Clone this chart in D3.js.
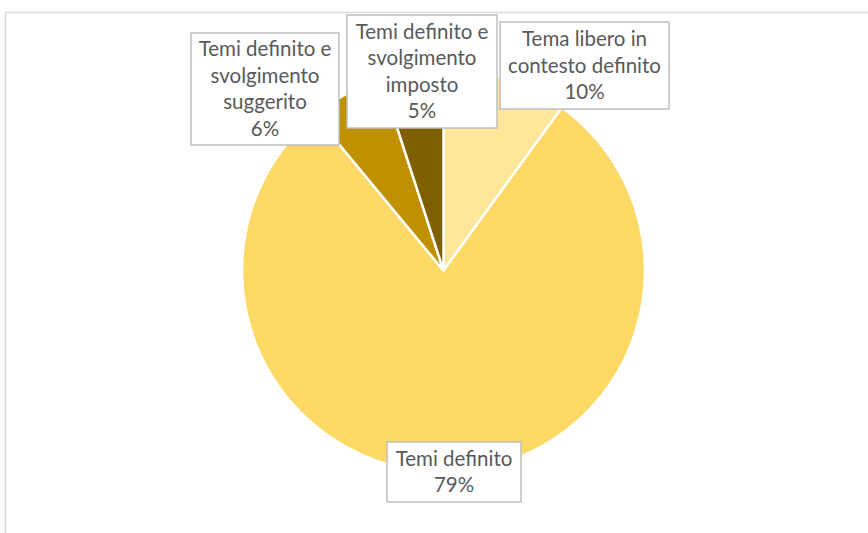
<!DOCTYPE html>
<html>
<head>
<meta charset="utf-8">
<script src="https://cdn.jsdelivr.net/npm/d3@7"></script>
<style>
  body { margin: 0; background: #fff; }
  #PieChart { width: 868px; height: 533px; }
  .lbl { font-family: Lato, "Open Sans", sans-serif; fill: #595959; }
</style>
</head>
<body>
<div id="PieChart"></div>
<script>
// chart data
var categories = ["Tema libero in contesto definito", "Temi definito",
                  "Temi definito e svolgimento suggerito", "Temi definito e svolgimento imposto"];
var values = [10, 79, 6, 5];
var labelLines = [["Tema libero in", "contesto definito"],
                  ["Temi definito"],
                  ["Temi definito e", "svolgimento", "suggerito"],
                  ["Temi definito e", "svolgimento", "imposto"]];

var sliceColors = d3.scaleOrdinal()
    .domain(categories)
    .range(["#FFE699", "#FFD966", "#BF9000", "#7F6000"]);

// where the label boxes sit (left, top, width, height)
var boxLayout = [
  { x: 500, y: 22, w: 169, h: 87 },
  { x: 387, y: 442, w: 134, h: 60 },
  { x: 191, y: 33, w: 148, h: 112 },
  { x: 347, y: 15, w: 150, h: 113 }
];

var width = 868, height = 533;
var cx = 443.5, cy = 270.5, radius = 201.5;

var svg = d3.select("#PieChart")
            .append("svg")
            .attr("width", width)
            .attr("height", height);

// chart area border (only top and left edge are visible)
svg.append("path")
   .attr("d", "M5.5,533 L5.5,12.5 L868,12.5")
   .attr("fill", "none")
   .attr("stroke", "#d9d9d9")
   .attr("stroke-width", 1.5);

var pie = d3.pie().sort(null).value(function (d) { return d; });
var arc = d3.arc().innerRadius(0).outerRadius(radius);

var pieG = svg.append("g")
              .attr("transform", "translate(" + cx + "," + cy + ")");

pieG.selectAll(".slice")
    .data(pie(values))
    .enter()
    .append("path")
    .attr("class", "slice")
    .attr("d", arc)
    .attr("fill", function (d, i) { return sliceColors(categories[i]); })
    .attr("stroke", "#fff")
    .attr("stroke-width", 2.5)
    .attr("stroke-linejoin", "round");

var fontSize = 20.5, lineH = 26.5;

var labels = svg.selectAll(".label")
    .data(values)
    .enter()
    .append("g")
    .attr("class", "label");

labels.append("rect")
    .attr("x", function (d, i) { return boxLayout[i].x; })
    .attr("y", function (d, i) { return boxLayout[i].y; })
    .attr("width", function (d, i) { return boxLayout[i].w; })
    .attr("height", function (d, i) { return boxLayout[i].h; })
    .attr("fill", "#fff")
    .attr("stroke", "#bfbfbf")
    .attr("stroke-width", 1.5);

labels.each(function (d, i) {
  var b = boxLayout[i];
  var lines = labelLines[i].concat([d + "%"]);
  var startY = b.y + b.h / 2 - (lines.length - 1) * lineH / 2;
  d3.select(this).selectAll("text")
    .data(lines)
    .enter()
    .append("text")
    .attr("class", "lbl")
    .attr("x", b.x + b.w / 2)
    .attr("y", function (t, j) { return startY + j * lineH; })
    .attr("dy", "0.35em")
    .attr("text-anchor", "middle")
    .style("font-size", fontSize + "px")
    .text(function (t) { return t; });
});
</script>
</body>
</html>
